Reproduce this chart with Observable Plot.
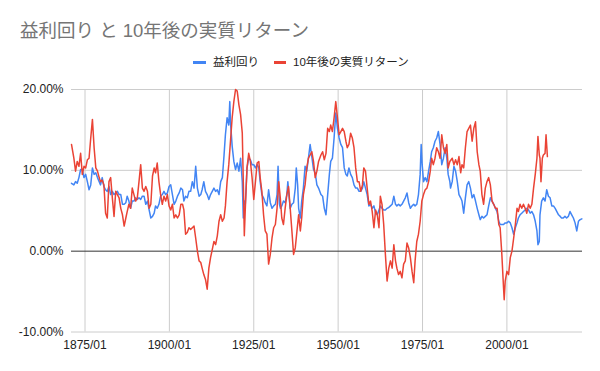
<!DOCTYPE html>
<html>
<head>
<meta charset="utf-8">
<script src="https://cdn.jsdelivr.net/npm/d3@7"></script>
<script src="https://cdn.jsdelivr.net/npm/@observablehq/plot@0.6"></script>
<style>
  html, body { margin: 0; padding: 0; background: #fff; }
  #wrap { position: relative; width: 600px; height: 371px; overflow: hidden; background: #fff; }
  #title { position: absolute; left: 20px; top: 21px; font-family: "Liberation Sans", "Noto Sans CJK JP", sans-serif; font-size: 18.5px; line-height: 19px; color: #757575; white-space: nowrap; }
  #legend { position: absolute; left: 0; top: 55px; width: 600px; height: 14px; font-family: "Liberation Sans", "Noto Sans CJK JP", sans-serif; font-size: 11.5px; line-height: 14px; color: #222; }
  .sw { position: absolute; top: 5.5px; width: 12.5px; height: 3px; }
  .lt { position: absolute; top: 0; white-space: nowrap; }
  #chart { position: absolute; left: 0; top: 0; }
</style>
</head>
<body>
<div id="wrap">
  <div id="chart"></div>
  <div id="title"></div>
  <div id="legend"></div>
</div>
<script>
const titleText = "益利回り と 10年後の実質リターン";
const seriesNames = ["益利回り", "10年後の実質リターン"];
const seriesColors = ["#4285f4", "#ea4335"];
const xTicks = [1875, 1900, 1925, 1950, 1975, 2000];
const yTicks = [-10, 0, 10, 20];

// 益利回り (%), [year, value]
const earningsYield = [
[1871.0,8.4],[1871.7,8.2],[1872.2,8.6],[1872.7,8.4],[1873.2,9.1],[1873.7,10.1],[1874.2,10.1],[1874.7,9.1],
[1875.2,9.5],[1875.7,8.6],[1876.2,7.6],[1876.7,8.2],[1877.2,10.3],[1877.7,9.5],[1878.2,9.7],[1878.7,9.1],
[1879.2,8.6],[1879.6,8.2],[1880.1,9.1],[1880.6,8.0],[1881.1,7.6],[1881.6,7.4],[1882.1,8.0],[1882.6,7.0],
[1883.1,7.4],[1883.6,7.0],[1884.1,7.2],[1884.6,7.4],[1885.1,7.0],[1885.6,7.0],[1886.1,5.8],[1886.6,5.8],
[1887.1,6.0],[1887.5,6.8],[1888.0,6.2],[1888.5,5.3],[1889.0,6.2],[1889.5,6.2],[1890.0,6.6],[1890.5,6.4],
[1891.0,6.6],[1891.5,6.4],[1892.0,6.8],[1892.5,6.8],[1893.0,5.8],[1893.5,6.2],[1894.0,5.1],[1894.5,4.1],
[1895.0,4.3],[1895.5,4.7],[1895.9,5.6],[1896.4,5.3],[1896.9,5.8],[1897.4,6.8],[1897.9,7.0],[1898.4,7.4],
[1898.9,7.0],[1899.4,7.2],[1899.9,8.0],[1900.4,8.2],[1900.9,7.0],[1901.4,5.8],[1901.9,6.2],[1902.4,6.8],
[1902.9,7.2],[1903.4,7.8],[1903.9,7.6],[1904.3,6.2],[1904.8,6.8],[1905.3,6.6],[1905.8,7.4],
[1906.3,7.4],[1906.8,8.6],[1907.3,7.8],[1907.8,10.5],[1908.3,7.8],[1908.8,6.8],[1909.3,7.0],[1909.7,7.6],
[1910.2,8.6],[1910.7,7.4],[1911.2,7.0],[1911.7,6.4],[1912.2,7.0],[1912.7,7.4],[1913.2,7.8],[1913.7,7.4],
[1914.2,7.6],[1914.7,7.0],[1915.2,8.6],[1915.7,9.1],[1916.2,11.9],[1916.6,14.4],[1917.1,16.5],[1917.6,15.6],
[1917.9,18.5],[1918.1,16.0],[1918.6,13.0],[1919.1,11.1],[1919.6,10.1],[1920.1,10.9],[1920.6,9.9],[1921.1,11.5],
[1921.6,8.6],[1921.9,4.1],[1922.2,6.2],[1922.5,5.8],[1923.0,10.3],[1923.5,11.5],[1924.0,11.3],[1924.5,10.7],
[1925.0,10.7],[1925.5,10.3],[1926.0,10.7],[1926.5,10.3],[1926.9,8.6],[1927.4,7.0],[1927.9,6.6],[1928.4,6.0],
[1928.9,5.6],[1929.4,7.6],[1929.9,6.0],[1930.4,5.3],[1930.9,5.6],[1931.4,5.8],[1931.9,7.0],[1932.2,10.5],
[1932.6,5.8],[1932.9,5.3],[1933.3,5.6],[1933.8,6.2],[1934.3,6.0],[1934.8,7.0],[1935.1,8.6],[1935.5,6.6],
[1935.8,5.3],[1936.3,5.8],[1936.8,6.0],[1937.3,7.8],[1937.6,10.3],[1938.0,8.2],[1938.3,5.3],[1938.8,4.1],
[1939.2,6.2],[1939.7,7.8],[1940.2,10.5],[1940.7,9.9],[1941.2,11.5],[1941.7,13.2],[1942.2,11.7],[1942.7,10.1],
[1943.2,9.7],[1943.7,8.2],[1944.2,7.8],
[1944.9,7.0],[1945.4,6.8],[1945.9,5.3],[1946.4,4.5],[1946.9,7.0],[1947.4,9.5],[1947.8,11.1],[1948.3,11.5],
[1948.8,14.0],[1949.3,17.1],[1949.8,15.2],[1950.3,14.0],[1950.8,13.2],[1951.3,12.8],[1951.8,10.3],[1952.3,9.5],
[1952.7,9.3],[1953.2,10.3],[1953.7,9.5],[1954.2,9.1],[1954.7,8.2],[1955.2,7.8],[1955.7,7.8],[1956.2,7.4],
[1956.7,7.4],[1957.2,7.8],[1957.6,8.6],[1958.1,7.8],[1958.6,7.0],[1959.1,5.6],[1959.6,5.8],[1960.1,5.3],
[1960.6,5.6],[1961.1,4.7],[1961.6,4.5],[1962.1,5.1],[1962.5,5.6],[1963.0,5.3],[1963.5,5.1],[1964.0,5.1],
[1964.5,5.3],[1965.0,5.4],[1965.5,5.6],[1966.0,5.8],[1966.5,6.8],[1967.0,5.8],[1967.4,5.6],[1967.9,5.8],
[1968.4,5.6],[1968.9,5.8],[1969.4,6.2],[1969.9,6.6],[1970.4,7.2],[1970.9,6.0],[1971.4,5.3],[1971.9,5.6],
[1972.4,5.8],[1972.8,5.6],[1973.3,5.8],[1973.8,7.0],[1974.3,9.5],[1974.6,13.2],[1974.9,10.7],[1975.3,8.6],
[1975.8,9.1],[1976.3,8.6],[1976.8,9.9],[1977.3,11.1],[1977.7,12.3],[1978.2,12.8],[1978.7,13.6],[1979.2,14.0],
[1979.7,14.8],[1980.2,13.2],[1980.7,10.7],[1981.2,11.5],[1981.7,12.8],[1982.2,11.5],[1982.6,9.5],[1983.1,8.6],
[1983.3,7.8],[1983.8,8.6],[1984.3,10.5],[1984.8,9.9],[1985.3,8.6],[1985.8,7.0],[1986.3,6.6],[1986.7,6.2],
[1987.2,4.7],[1987.7,6.6],[1988.2,8.2],[1988.7,8.6],[1989.2,7.8],[1989.7,6.6],[1990.2,7.0],[1990.7,6.2],
[1991.2,5.3],[1991.7,4.5],[1992.1,3.9],[1992.6,4.3],[1993.1,4.1],[1993.6,4.3],[1994.1,4.5],[1994.6,5.6],
[1995.1,6.6],[1995.6,6.2],[1996.1,5.8],[1996.6,5.3],[1997.1,4.9],[1997.6,3.7],[1998.0,3.3],[1998.5,3.3],
[1999.0,3.3],[1999.5,3.5],[2000.0,3.5],[2000.5,3.7],[2001.0,3.5],[2001.5,2.9],[2002.0,2.1],[2002.5,2.9],
[2003.0,3.5],[2003.4,4.1],[2003.9,4.5],[2004.4,4.7],[2004.9,4.9],[2005.4,5.1],[2005.9,5.3],[2006.4,5.1],
[2006.9,4.7],[2007.4,4.9],[2007.9,4.5],[2008.4,3.7],[2008.9,2.5],[2009.2,0.8],[2009.6,1.2],[2009.8,4.5],
[2010.3,6.2],[2010.8,6.6],[2011.3,6.2],[2011.8,7.6],[2012.3,6.8],[2012.8,6.6],[2013.3,5.6],[2013.8,5.6],
[2014.3,5.3],[2014.8,4.9],[2015.3,4.5],[2015.8,4.3],[2016.2,4.1],[2016.7,4.1],[2017.2,4.3],[2017.7,4.1],
[2018.2,4.3],[2018.7,4.9],[2019.2,4.5],[2019.7,4.1],[2020.2,3.5],[2020.7,2.5],[2021.2,3.7],[2021.7,3.9],
[2022.2,4.0]
];

// 10年後の実質リターン (%), [year, value]
const realReturn10y = [
[1871.0,13.2],[1871.7,11.5],[1872.2,9.9],[1872.7,11.1],[1873.2,10.5],[1873.7,12.1],[1874.2,9.5],[1874.7,10.5],
[1875.2,10.3],[1875.7,11.3],[1876.2,11.5],[1876.7,14.0],[1877.2,16.3],[1877.7,12.8],[1878.2,10.3],[1878.7,9.9],
[1879.2,9.1],[1879.6,8.6],[1880.1,8.8],[1880.6,8.2],[1881.1,4.7],[1881.6,4.1],[1882.1,8.6],[1882.6,9.1],
[1883.1,6.6],[1883.6,4.3],[1884.1,7.4],[1884.6,7.0],[1885.1,6.6],[1885.6,5.3],[1886.1,4.5],[1886.6,3.1],
[1887.1,4.1],[1887.5,4.9],[1888.0,5.8],[1888.5,5.3],[1889.0,7.8],[1889.5,7.0],[1890.0,6.2],[1890.5,6.6],
[1891.0,8.6],[1891.5,10.7],[1892.0,7.8],[1892.5,7.4],[1893.0,8.0],[1893.5,7.4],[1894.0,5.3],[1894.5,5.8],
[1895.0,9.3],[1895.5,10.3],[1895.9,9.7],[1896.4,10.9],[1896.9,8.6],[1897.4,7.0],[1897.9,5.8],[1898.4,6.8],
[1898.9,6.2],[1899.4,7.0],[1899.9,5.6],[1900.4,5.1],[1900.9,5.8],[1901.4,4.1],[1901.9,4.5],[1902.4,4.1],
[1902.9,4.5],[1903.4,5.8],[1903.9,5.8],[1904.3,5.1],[1904.8,2.1],[1905.3,2.3],[1905.8,2.9],
[1906.3,2.7],[1906.8,2.9],[1907.3,3.1],[1907.8,1.6],[1908.3,0.0],[1908.8,-1.2],[1909.3,-1.4],[1909.7,-2.1],
[1910.2,-2.9],[1910.7,-3.5],[1911.2,-4.7],[1911.7,-2.1],[1912.2,-0.8],[1912.7,0.2],[1913.2,1.2],[1913.7,0.8],
[1914.2,1.9],[1914.7,3.7],[1915.2,4.5],[1915.7,3.7],[1916.2,4.1],[1916.6,5.6],[1917.1,8.6],[1917.6,10.7],
[1918.1,13.6],[1918.6,16.5],[1919.1,18.5],[1919.6,20.0],[1920.1,19.8],[1920.6,18.1],[1921.1,16.9],[1921.6,14.6],
[1922.0,6.6],[1922.2,1.9],[1922.5,5.3],[1923.0,10.3],[1923.5,12.1],[1924.0,11.1],[1924.5,9.1],[1925.0,6.4],
[1925.5,8.6],[1926.0,10.9],[1926.5,11.1],[1926.9,9.1],[1927.4,7.4],[1927.9,4.5],[1928.4,2.5],[1928.9,2.1],
[1929.4,-1.6],[1929.9,-0.4],[1930.4,1.6],[1930.9,2.9],[1931.4,3.3],[1931.9,5.3],[1932.4,8.6],[1932.9,6.4],
[1933.3,4.1],[1933.8,3.3],[1934.3,5.3],[1934.8,7.0],[1935.3,8.0],[1935.8,5.3],[1936.3,2.5],[1936.8,-0.4],
[1937.3,0.4],[1937.8,2.5],[1938.3,4.5],[1938.8,2.5],[1939.2,4.1],[1939.7,7.0],[1940.2,8.2],[1940.7,10.3],
[1941.2,11.5],[1941.7,11.9],[1942.2,12.3],[1942.7,11.1],[1943.2,9.1],[1943.7,9.9],[1944.2,11.1],
[1944.9,11.9],[1945.4,12.3],[1945.9,11.3],[1946.4,12.1],[1946.9,15.2],[1947.4,14.8],[1947.8,15.6],[1948.3,14.8],
[1948.8,16.5],[1949.3,18.5],[1949.8,16.5],[1950.3,14.4],[1950.8,14.8],[1951.3,15.2],[1951.8,14.8],[1952.3,13.6],
[1952.7,12.8],[1953.2,13.2],[1953.7,14.6],[1954.2,14.0],[1954.7,12.8],[1955.2,10.3],[1955.7,8.6],[1956.2,8.6],
[1956.7,7.4],[1957.2,8.2],[1957.6,10.3],[1958.1,9.9],[1958.6,7.8],[1959.1,5.8],[1959.6,6.2],[1960.1,4.9],
[1960.6,2.9],[1961.1,5.1],[1961.6,4.5],[1962.1,2.9],[1962.5,6.8],[1963.0,5.8],[1963.5,3.3],[1964.0,-0.4],
[1964.5,-3.7],[1965.0,-2.1],[1965.5,-1.2],[1966.0,-2.1],[1966.5,0.8],[1967.0,-1.2],[1967.4,-2.1],[1967.9,-2.9],
[1968.4,-2.5],[1968.9,-3.3],[1969.4,-1.6],[1969.9,-1.2],[1970.4,1.0],[1970.9,0.4],[1971.4,-0.8],[1971.9,-2.5],
[1972.4,-3.9],[1972.8,-1.2],[1973.3,1.2],[1973.8,2.1],[1974.3,3.7],[1974.8,6.2],[1975.3,7.0],[1975.8,7.6],
[1976.3,7.8],[1976.8,8.6],[1977.3,9.9],[1977.7,11.5],[1978.2,10.7],[1978.7,11.5],[1979.2,12.8],[1979.7,12.3],
[1980.2,11.5],[1980.7,14.4],[1981.2,12.8],[1981.7,12.1],[1982.2,13.2],[1982.6,10.3],[1983.1,11.1],
[1983.8,11.5],[1984.3,10.7],[1984.8,11.3],[1985.3,10.7],[1985.8,11.7],[1986.3,9.7],[1986.7,10.7],[1987.2,10.3],
[1987.7,12.8],[1988.2,14.8],[1988.7,15.2],[1989.2,15.6],[1989.7,13.6],[1990.2,15.2],[1990.7,16.0],[1991.2,12.3],
[1991.7,10.7],[1992.1,9.9],[1992.6,7.0],[1993.1,5.8],[1993.6,7.8],[1994.1,8.6],[1994.6,9.1],[1995.1,8.2],
[1995.6,6.2],[1996.1,5.8],[1996.6,5.3],[1997.1,5.3],[1997.6,3.3],[1998.0,2.9],[1998.5,-0.4],[1999.0,-4.5],
[1999.2,-6.0],[1999.5,-3.7],[2000.0,-2.5],[2000.5,-2.9],[2001.0,-0.8],[2001.5,0.0],[2002.0,1.6],[2002.5,3.3],
[2003.0,5.3],[2003.4,4.9],[2003.9,5.8],[2004.4,5.3],[2004.9,5.8],[2005.4,5.3],[2005.9,4.7],[2006.4,5.8],
[2006.9,5.3],[2007.4,5.8],[2007.9,7.8],[2008.4,9.5],[2008.9,11.5],[2009.2,14.2],[2009.6,11.9],[2009.8,11.5],
[2010.1,8.6],[2010.5,11.5],[2010.8,11.9],[2011.3,12.1],[2011.6,14.4],[2012.0,11.7]
];

// Title & legend (HTML, outside the SVG)
document.getElementById("title").textContent = titleText;
const legend = document.getElementById("legend");
const legendItems = [
  {sw: 193, tx: 213},
  {sw: 273.5, tx: 293}
];
seriesNames.forEach((name, i) => {
  const sw = document.createElement("div");
  sw.className = "sw";
  sw.style.left = legendItems[i].sw + "px";
  sw.style.background = seriesColors[i];
  legend.appendChild(sw);
  const t = document.createElement("div");
  t.className = "lt";
  t.style.left = legendItems[i].tx + "px";
  t.textContent = name;
  legend.appendChild(t);
});

const chart = Plot.plot({
  width: 600,
  height: 371,
  marginTop: 89,
  marginBottom: 39.5,
  marginLeft: 71,
  marginRight: 18,
  style: { fontFamily: "'Liberation Sans', Arial, sans-serif", fontSize: "12px", color: "#222", background: "transparent" },
  x: { type: "linear", domain: [1871.0, 2022.4], ticks: xTicks, tickFormat: d => d + "/01", tickSize: 0, tickPadding: 8, label: null },
  y: { domain: [-10, 20], ticks: yTicks, tickFormat: d => d.toFixed(2) + "%", tickSize: 0, tickPadding: 8, label: null },
  marks: [
    Plot.ruleX(xTicks, { stroke: "#cccccc", strokeWidth: 1 }),
    Plot.ruleY(yTicks.filter(d => d !== 0), { stroke: "#cccccc", strokeWidth: 1 }),
    Plot.ruleY([0], { stroke: "#333333", strokeWidth: 1 }),
    Plot.line(earningsYield, { x: d => d[0], y: d => d[1], stroke: seriesColors[0], strokeWidth: 1.5 }),
    Plot.line(realReturn10y, { x: d => d[0], y: d => d[1], stroke: seriesColors[1], strokeWidth: 1.5 })
  ]
});
document.getElementById("chart").appendChild(chart);
</script>
</body>
</html>
